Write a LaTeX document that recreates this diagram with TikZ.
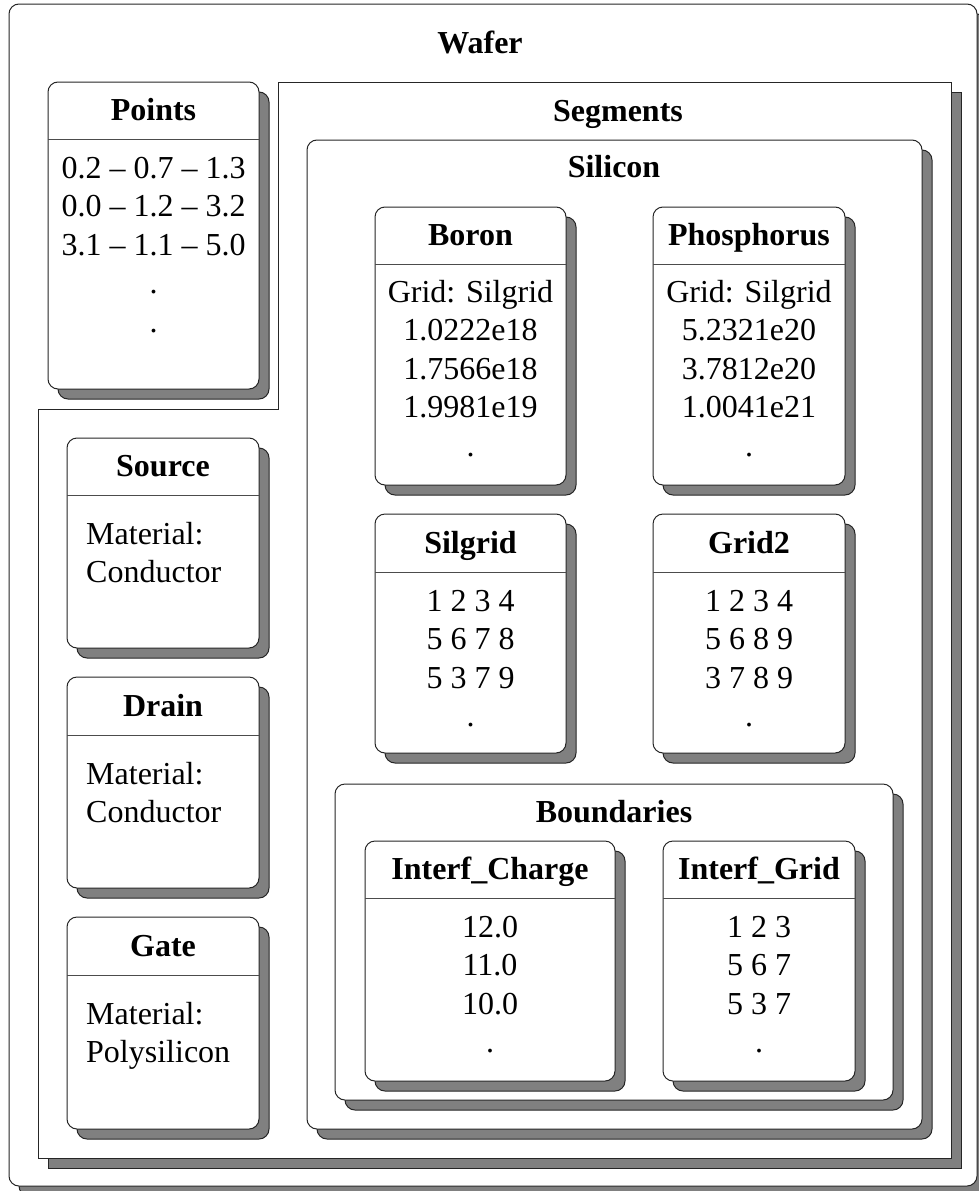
\documentclass[tikz,border=0pt]{standalone}
\usepackage{fontspec}
\setmainfont{Liberation Serif}
\usetikzlibrary{shadows}
\tikzset{
  ln/.style={draw=black!85, line width=1pt},
  box/.style={ln, fill=white, rounded corners=10pt, inner sep=0pt, outer sep=0pt,
    drop shadow={shadow xshift=10pt, shadow yshift=-10pt, opacity=1, fill=black!50, draw=black!85, line width=1pt}},
  ttl/.style={font=\fontsize{32}{38.5}\selectfont\bfseries, inner sep=0pt, anchor=base},
  bdy/.style={font=\fontsize{32}{38.5}\selectfont, inner sep=0pt},
  hdr/.style={draw=black!70, line width=1pt},
}
% #1 name, #2 x1, #3 y1, #4 x2, #5 y2, #6 header y, #7 title
\newcommand\ubox[7]{%
  \node[box, minimum width={(#4-#2)*1pt}, minimum height={(#5-#3)*1pt}] (#1) at ({(#2+#4)/2},{(#3+#5)/2}) {};
  \draw[hdr] (#2,#6) -- (#4,#6);
  \node[ttl] (#1-title) at ({(#2+#4)/2},{#6-19}) {#7};
}
% #1 name, #2 x, #3 first baseline, #4 anchor, #5 list of lines
\newcommand\blines[5]{%
  \foreach \t [count=\i] in {#5} {\node[bdy, anchor=#4] (#1-\i) at (#2,{#3+(\i-1)*38.5}) {\t};}
}
\begin{document}
\begin{tikzpicture}[x=1pt,y=-1pt]
\useasboundingbox (0,0) rectangle (978,1191);

% Wafer
\node[box, minimum width=968pt, minimum height=1182pt] (wafer) at (493,595) {};
\node[ttl] (wafer-title) at (480,53) {Wafer};

% Segments container (L-shaped)
\fill[black!50, draw=black!85, line width=1pt, shift={(10,10)}]
  (278,82) -- (951,82) -- (951,1158) -- (38,1158) -- (38,409) -- (278,409) -- cycle;
\draw[ln, fill=white]
  (278,82) -- (951,82) -- (951,1158) -- (38,1158) -- (38,409) -- (278,409) -- cycle;
\node[ttl] (segments-title) at (618,121) {Segments};

% Points
\ubox{points}{48}{82}{259}{389}{139}{Points}
\blines{points}{153.5}{178}{base}{0.2 – 0.7 – 1.3,0.0 – 1.2 – 3.2,3.1 – 1.1 – 5.0,.,.}

% Source, Drain, Gate
\ubox{source}{67}{438}{259}{648}{495}{Source}
\blines{source}{86}{544}{base west}{Material:,Conductor}
\ubox{drain}{67}{677}{259}{888}{735}{Drain}
\blines{drain}{86}{784}{base west}{Material:,Conductor}
\ubox{gate}{67}{917}{259}{1129}{975}{Gate}
\blines{gate}{86}{1024}{base west}{Material:,Polysilicon}

% Silicon
\node[box, minimum width=615pt, minimum height=989pt] (silicon) at (614.5,634.5) {};
\node[ttl] (silicon-title) at (614,177) {Silicon};

\ubox{boron}{375}{207}{566}{485}{264}{Boron}
\blines{boron}{470.5}{302}{base}{Grid: Silgrid,1.0222e18,1.7566e18,1.9981e19,.}
\ubox{phos}{653}{207}{845}{485}{264}{Phosphorus}
\blines{phos}{749}{302}{base}{Grid: Silgrid,5.2321e20,3.7812e20,1.0041e21,.}

\ubox{silgrid}{375}{514}{566}{753}{572}{Silgrid}
\blines{silgrid}{470.5}{611}{base}{1 2 3 4,5 6 7 8,5 3 7 9,.}
\ubox{grid2}{653}{514}{845}{753}{572}{Grid2}
\blines{grid2}{749}{611}{base}{1 2 3 4,5 6 8 9,3 7 8 9,.}

% Boundaries
\node[box, minimum width=558pt, minimum height=316pt] (boundaries) at (614,942) {};
\node[ttl] (boundaries-title) at (614,822) {Boundaries};

\ubox{icharge}{365}{841}{615}{1081}{898}{Interf\_Charge}
\blines{icharge}{490}{937}{base}{12.0,11.0,10.0,.}
\ubox{igrid}{663}{841}{855}{1081}{898}{Interf\_Grid}
\blines{igrid}{759}{937}{base}{1 2 3,5 6 7,5 3 7,.}
\end{tikzpicture}
\end{document}
